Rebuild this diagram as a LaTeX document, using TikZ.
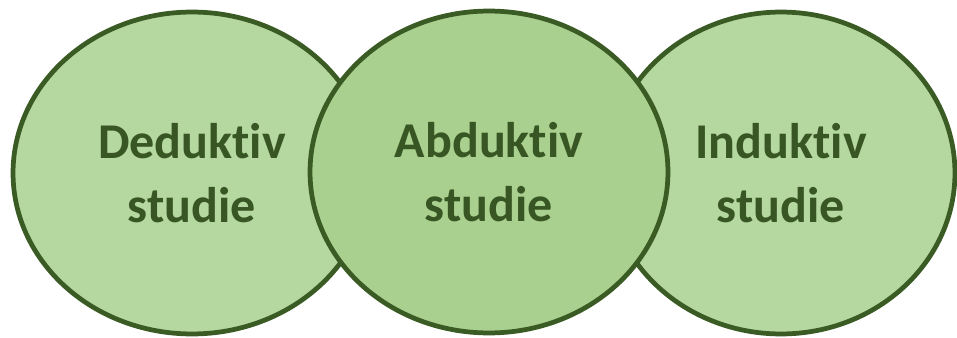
\documentclass[tikz,border=0pt]{standalone}
\usepackage{fontspec}
\setsansfont{Carlito}[Ligatures={NoCommon}]
\usepackage{xcolor}
\usepackage{tikz}
\usetikzlibrary{shapes.geometric}
\definecolor{outerfill}{HTML}{B5D7A0}
\definecolor{innerfill}{HTML}{A9D08E}
\definecolor{darkgreen}{HTML}{3A5B24}
\definecolor{textgreen}{HTML}{375623}

\begin{document}
\begin{tikzpicture}[x=0.02cm,y=-0.02cm,
		studie/.style={ellipse,draw=darkgreen,line width=2.7pt,inner sep=0pt,
			minimum height=6.44cm,align=center,text=textgreen,
			font=\sffamily\bfseries\fontsize{28.5pt}{36.5pt}\selectfont}]
		\useasboundingbox (0,0) rectangle (957,338);
		\node[studie,fill=outerfill,minimum width=7.16cm] (deduktiv) at (192,173) {Deduktiv\\studie};
		\node[studie,fill=outerfill,minimum width=6.96cm] (induktiv) at (781,173) {Induktiv\\studie};
		\node[studie,fill=innerfill,minimum width=7.16cm] (abduktiv) at (489,172) {Abduktiv\\studie};
	\end{tikzpicture}
\end{document}
